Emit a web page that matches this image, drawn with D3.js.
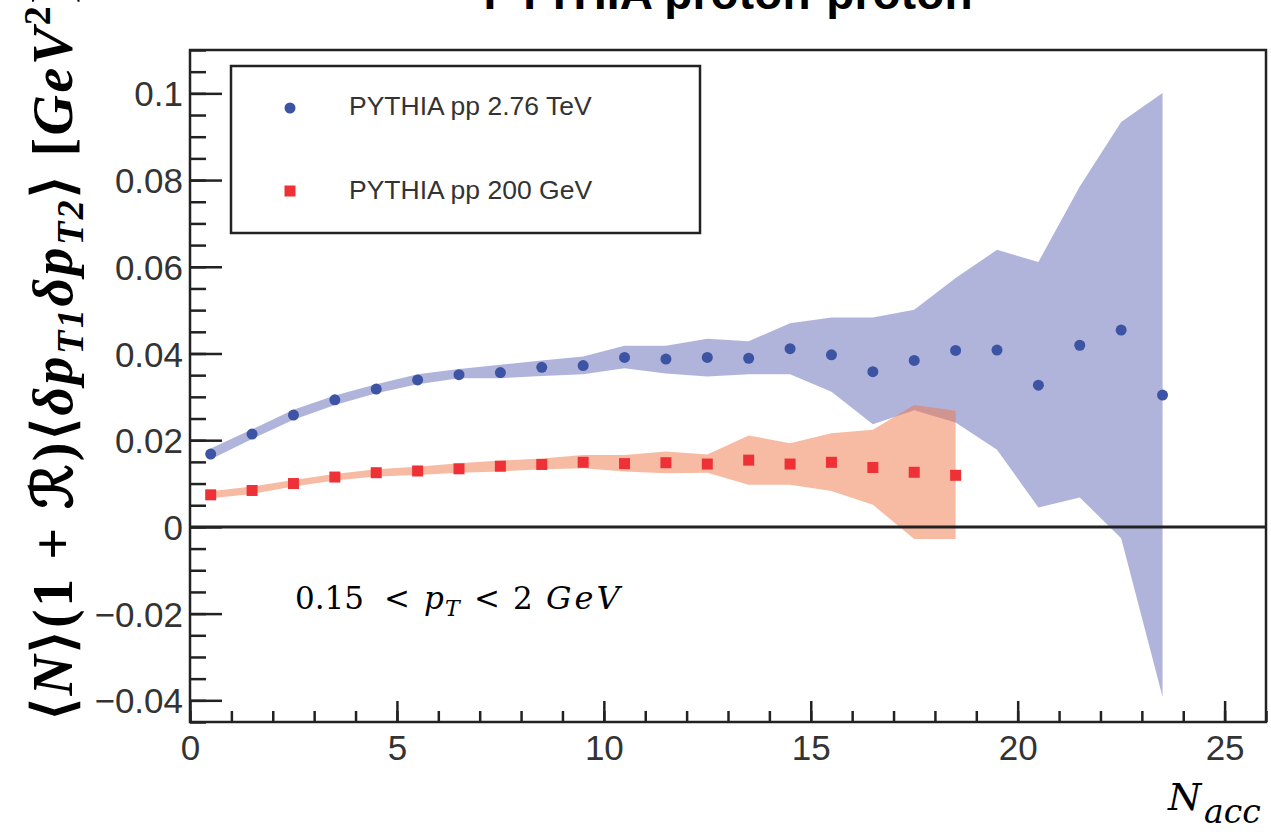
<!DOCTYPE html>
<html lang="en">
<head>
<meta charset="utf-8">
<title>PYTHIA proton-proton</title>
<script src="https://cdn.jsdelivr.net/npm/d3@7"></script>
<style>
  body { margin: 0; background: #fff; }
  svg { display: block; }
  .axis text { font-family: "Liberation Sans", Arial, sans-serif; font-size: 35px; fill: #333; }
  .axis line { stroke: #222; stroke-width: 2.5; }
  .axis path { display: none; }
  .math { font-family: "Liberation Serif", "Times New Roman", serif; }
  .math2 { font-family: "DejaVu Serif", serif; }
</style>
</head>
<body>
<script>
// bin centres (N_acc)
var xBlue = [0.5, 1.5, 2.5, 3.5, 4.5, 5.5, 6.5, 7.5, 8.5, 9.5, 10.5, 11.5,
             12.5, 13.5, 14.5, 15.5, 16.5, 17.5, 18.5, 19.5, 20.5, 21.5, 22.5, 23.5];
var xRed  = [0.5, 1.5, 2.5, 3.5, 4.5, 5.5, 6.5, 7.5, 8.5, 9.5, 10.5, 11.5,
             12.5, 13.5, 14.5, 15.5, 16.5, 17.5, 18.5];

// PYTHIA pp 2.76 TeV
var blueVal = [0.0168, 0.0214, 0.0258, 0.0293, 0.0318, 0.0339, 0.0351, 0.0356, 0.0368, 0.0372, 0.0391, 0.0387,
               0.0391, 0.0389, 0.0411, 0.0397, 0.0358, 0.0384, 0.0407, 0.0408, 0.0327, 0.0419, 0.0454, 0.0304];
var blueHi  = [0.0181, 0.0225, 0.0270, 0.0303, 0.0329, 0.0352, 0.0364, 0.0374, 0.0384, 0.0393, 0.0418, 0.0418,
               0.0434, 0.0428, 0.0470, 0.0483, 0.0483, 0.0501, 0.0574, 0.0639, 0.0611, 0.0785, 0.0934, 0.1001];
var blueLo  = [0.0156, 0.0203, 0.0247, 0.0281, 0.0308, 0.0329, 0.0343, 0.0343, 0.0348, 0.0352, 0.0366, 0.0354,
               0.0347, 0.0352, 0.0352, 0.0312, 0.0237, 0.0269, 0.0241, 0.0178, 0.0045, 0.0068, -0.0026, -0.0392];

// PYTHIA pp 200 GeV
var redVal = [0.0074, 0.0084, 0.0100, 0.0115, 0.0125, 0.0129, 0.0134, 0.0140, 0.0144, 0.0149, 0.0146, 0.0148,
              0.0145, 0.0154, 0.0145, 0.0149, 0.0137, 0.0126, 0.0119];
var redHi  = [0.0082, 0.0093, 0.0108, 0.0122, 0.0133, 0.0139, 0.0147, 0.0153, 0.0158, 0.0166, 0.0166, 0.0174,
              0.0167, 0.0211, 0.0193, 0.0216, 0.0224, 0.0281, 0.0268];
var redLo  = [0.0066, 0.0076, 0.0093, 0.0107, 0.0116, 0.0120, 0.0125, 0.0128, 0.0133, 0.0135, 0.0128, 0.0124,
              0.0125, 0.0097, 0.0097, 0.0083, 0.0051, -0.0028, -0.0028];

// axis ticks
var xMajorTicks = [0, 5, 10, 15, 20, 25];
var yMajorTicks = [-0.04, -0.02, 0, 0.02, 0.04, 0.06, 0.08, 0.1];

var w = 1271, h = 832;
// plot frame (note: "top" is reserved on window, so use prefixed names)
var pLeft = 190, pRight = 1266, pTop = 50, pBottom = 722;

var xScale = d3.scaleLinear().domain([0, 26]).range([pLeft, pRight]);
var yScale = d3.scaleLinear().domain([-0.045, 0.11]).range([pBottom, pTop]);

var svg = d3.select("body").append("svg")
    .attr("width", w)
    .attr("height", h);

// bands
function band(xs, lo, hi) {
    return d3.area()
        .x(function(d, i) { return xScale(xs[i]); })
        .y0(function(d, i) { return yScale(lo[i]); })
        .y1(function(d, i) { return yScale(hi[i]); })(xs);
}
svg.append("path")
    .attr("d", band(xBlue, blueLo, blueHi))
    .attr("fill", "rgb(97,105,183)")
    .attr("fill-opacity", 0.5);
svg.append("path")
    .attr("d", band(xRed, redLo, redHi))
    .attr("fill", "rgb(239,117,71)")
    .attr("fill-opacity", 0.5);

// zero line
svg.append("line")
    .attr("x1", pLeft).attr("x2", pRight)
    .attr("y1", yScale(0)).attr("y2", yScale(0))
    .attr("stroke", "#222")
    .attr("stroke-width", 3);

// markers
svg.selectAll("circle.blue")
    .data(blueVal)
    .enter()
    .append("circle")
    .attr("class", "blue")
    .attr("cx", function(d, i) { return xScale(xBlue[i]); })
    .attr("cy", function(d) { return yScale(d); })
    .attr("r", 5.5)
    .attr("fill", "#3d53a3");

var sq = 11;
svg.selectAll("rect.red")
    .data(redVal)
    .enter()
    .append("rect")
    .attr("class", "red")
    .attr("x", function(d, i) { return xScale(xRed[i]) - sq / 2; })
    .attr("y", function(d) { return yScale(d) - sq / 2; })
    .attr("width", sq)
    .attr("height", sq)
    .attr("fill", "#ee3137");

// axes (ticks point inward)
var gx = svg.append("g").attr("class", "axis")
    .attr("transform", "translate(0," + pBottom + ")");
gx.call(d3.axisBottom(xScale).tickValues(xScale.ticks(26)).tickSize(-11).tickFormat(""));
gx.append("g").call(d3.axisBottom(xScale).tickValues(xMajorTicks).tickSize(-21).tickPadding(13).tickFormat(d3.format("d")));

var gy = svg.append("g").attr("class", "axis")
    .attr("transform", "translate(" + pLeft + ",0)");
gy.call(d3.axisLeft(yScale).tickValues(d3.range(-0.045, 0.1101, 0.005)).tickSize(-16).tickFormat(""));
gy.append("g").call(d3.axisLeft(yScale).tickValues(yMajorTicks).tickSize(-32).tickPadding(7)
    .tickFormat(function(d) { return d === 0 ? "0" : d3.format("")(+d.toFixed(2)); }));
gy.selectAll("text").attr("dy", "0.36em");

// frame
svg.append("rect")
    .attr("x", pLeft).attr("y", pTop)
    .attr("width", pRight - pLeft).attr("height", pBottom - pTop)
    .attr("fill", "none")
    .attr("stroke", "#222")
    .attr("stroke-width", 2.5);

// title (cut off at the top edge)
svg.append("text")
    .attr("x", 728).attr("y", 9)
    .attr("text-anchor", "middle")
    .attr("font-family", "'Liberation Sans', Arial, sans-serif")
    .attr("font-weight", "bold")
    .attr("font-size", 46)
    .attr("textLength", 489)
    .text("PYTHIA proton-proton");

// legend
var lg = svg.append("g");
lg.append("rect")
    .attr("x", 231).attr("y", 66)
    .attr("width", 469).attr("height", 167)
    .attr("fill", "#fff")
    .attr("stroke", "#222")
    .attr("stroke-width", 2.5);
lg.append("circle").attr("cx", 290).attr("cy", 108).attr("r", 5.5).attr("fill", "#3d53a3");
lg.append("rect").attr("x", 290 - sq / 2).attr("y", 191 - sq / 2).attr("width", sq).attr("height", sq).attr("fill", "#ee3137");
lg.selectAll("text.lab")
    .data(["PYTHIA pp 2.76 TeV", "PYTHIA pp 200 GeV"])
    .enter()
    .append("text")
    .attr("x", 349)
    .attr("y", function(d, i) { return i === 0 ? 115 : 199; })
    .attr("font-family", "'Liberation Sans', Arial, sans-serif")
    .attr("font-size", 26.5)
    .attr("fill", "#333")
    .text(function(d) { return d; });

// kinematic range annotation
var ann = svg.append("text")
    .attr("class", "math2")
    .attr("y", 609)
    .attr("font-size", 31)
    .attr("fill", "#000");
ann.append("tspan").attr("x", 295).text("0.15");
ann.append("tspan").attr("x", 384).text("<");
ann.append("tspan").attr("x", 424).attr("font-style", "italic").text("p");
ann.append("tspan").attr("x", 445).attr("font-style", "italic").attr("font-size", 22).attr("dy", 7).text("T");
ann.append("tspan").attr("x", 474).attr("dy", -7).text("<");
ann.append("tspan").attr("x", 513).text("2");
ann.append("tspan").attr("x", 546).attr("font-style", "italic").attr("font-size", 32)
    .attr("letter-spacing", 3).text("GeV");

// x title
var xt = svg.append("text")
    .attr("class", "math2")
    .attr("y", 810)
    .attr("font-style", "italic");
xt.append("tspan").attr("x", 1168).attr("font-size", 38).text("N");
xt.append("tspan").attr("x", 1204).attr("font-size", 33).attr("dy", 13).text("acc");

// y title
var yt = svg.append("text")
    .attr("class", "math")
    .attr("transform", "translate(72,720) rotate(-90)")
    .attr("font-weight", "bold")
    .attr("font-size", 56)
    .attr("textLength", 735);
yt.append("tspan").text("\u27E8");
yt.append("tspan").attr("font-style", "italic").text("N");
yt.append("tspan").text("\u27E9(1 + \u211B)\u27E8");
yt.append("tspan").attr("font-style", "italic").text("\u03B4p");
yt.append("tspan").attr("font-style", "italic").attr("font-size", 38).attr("dy", 11).text("T1");
yt.append("tspan").attr("font-style", "italic").attr("dy", -11).text("\u03B4p");
yt.append("tspan").attr("font-style", "italic").attr("font-size", 38).attr("dy", 11).text("T2");
yt.append("tspan").attr("dy", -11).text("\u27E9 [");
yt.append("tspan").attr("font-style", "italic").text("GeV");
yt.append("tspan").attr("font-size", 38).attr("dy", -22).text("2");
yt.append("tspan").attr("dy", 22).text("]");
</script>
</body>
</html>
